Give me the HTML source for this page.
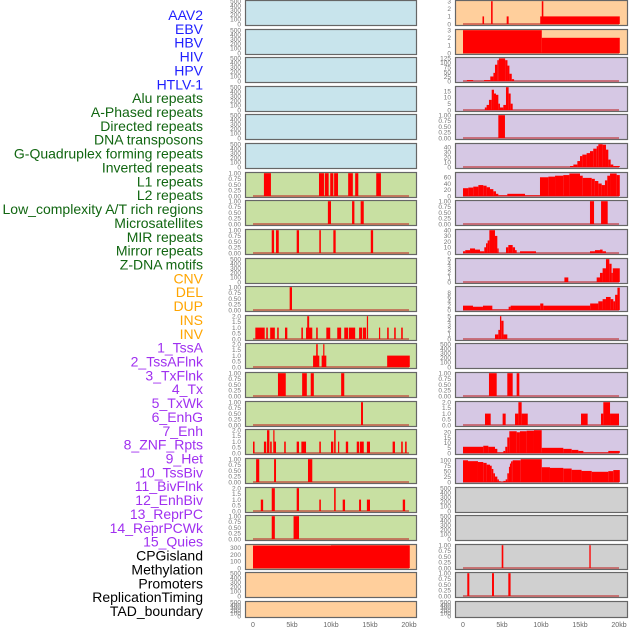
<!DOCTYPE html>
<html><head><meta charset="utf-8">
<style>
html,body{margin:0;padding:0;background:#fff;}
svg{display:block;font-family:"Liberation Sans",sans-serif;}
</style></head>
<body>
<svg id="chart" width="630" height="630" viewBox="0 0 630 630" xmlns="http://www.w3.org/2000/svg">
<g id="labels"></g>
<g id="panels"></g>
<g id="xaxes"></g>
</svg>
<script>
// ---- track names and colours ----
const trackNames = ["AAV2","EBV","HBV","HIV","HPV","HTLV-1","Alu repeats","A-Phased repeats","Directed repeats","DNA transposons","G-Quadruplex forming repeats","Inverted repeats","L1 repeats","L2 repeats","Low_complexity A/T rich regions","Microsatellites","MIR repeats","Mirror repeats","Z-DNA motifs","CNV","DEL","DUP","INS","INV","1_TssA","2_TssAFlnk","3_TxFlnk","4_Tx","5_TxWk","6_EnhG","7_Enh","8_ZNF_Rpts","9_Het","10_TssBiv","11_BivFlnk","12_EnhBiv","13_ReprPC","14_ReprPCWk","15_Quies","CPGisland","Methylation","Promoters","ReplicationTiming","TAD_boundary"];
const trackGroups = ["v","v","v","v","v","v","r","r","r","r","r","r","r","r","r","r","r","r","r","s","s","s","s","s","c","c","c","c","c","c","c","c","c","c","c","c","c","c","c","o","o","o","o","o"];

// ---- x axis ----
const xTickValues = [0,5000,10000,15000,20000];
const xTickLabels = ["0","5kb","10kb","15kb","20kb"];

// ---- series: [startKb, endKb, value] ----
const c1r6 = [[1.4,2.3,1],[8.46,9.1,1],[9.2,9.7,1],[9.9,10.3,1],[10.4,10.9,1],[12.2,12.8,1],[13.1,13.5,1],[15.8,16.4,1]];
const c1r7 = [[9.6,10.0,1],[12.7,13.0,1],[13.8,14.2,1]];
const c1r8 = [[2.4,2.7,1],[2.95,3.3,1],[5.6,5.9,1],[8.5,8.7,1],[10.3,10.6,1],[15.1,15.4,1]];
const c1r10 = [[4.7,5.0,1]];
const c1r11 = [[0.3,1.5,1],[1.7,1.9,1],[2.2,2.8,1],[3.1,3.3,1],[4.1,4.4,1],[6.2,6.4,1],[6.8,7.6,1],[6.95,7.2,2],[8.1,8.3,1],[9.4,9.9,1],[10.8,11.3,1],[11.7,12.2,1],[12.3,13.1,1],[13.6,14.0,1],[14.1,14.5,1],[14.6,14.75,2],[16.15,16.3,1],[17.2,17.4,1],[18.1,18.3,1],[19.0,19.2,1]];
const c1r12 = [[7.7,8.5,1],[8.1,8.3,2],[8.8,9.4,1],[9.0,9.1,2],[17.2,20.1,1]];
const c1r13 = [[3.2,4.2,1],[6.3,6.9,1],[7.4,7.8,1],[11.3,11.7,1]];
const c1r14 = [[13.85,14.1,1]];
const c1r15 = [[0,0.2,1],[1.4,1.7,1],[1.8,2.1,2],[2.2,2.4,1],[2.6,2.75,2],[2.75,2.95,1],[4.0,4.2,1],[5.6,5.9,1],[6.2,6.8,1],[8.5,8.7,1],[10.0,10.3,1],[10.4,10.6,2],[10.9,11.05,1],[11.9,12.2,1],[13.3,13.6,1],[13.7,14.2,1],[14.6,15.0,1],[17.9,18.2,1],[19.0,19.2,1],[19.5,19.7,1]];
const c1r16 = [[0.4,0.8,1],[2.7,2.95,1],[7.05,7.6,1]];
const c1r17 = [[1.0,1.3,1],[2.4,2.8,2],[5.6,5.9,2],[8.5,8.7,1],[10.4,10.6,2],[11.5,11.8,1],[13.6,13.85,1],[14.6,15.0,1],[19.2,19.5,1]];
const c1r18 = [[2.4,2.8,1],[5.2,5.9,1]];
const c1r19 = [[0,10,332],[10,20.1,336]];
const c2r0 = [[2.5,2.7,1],[3.6,3.8,3],[5.6,5.85,1],[9.9,20.1,1],[10.1,10.3,3]];
const c2r1 = [[0,10.1,3],[10.1,20.1,2]];
const c2r2 = [[0.5,1.3,5],[2.7,3.5,5],[3.5,3.9,25],[3.9,4.1,45],[4.1,4.4,90],[4.4,4.6,115],[4.6,5.4,125],[5.4,5.7,115],[5.7,5.95,85],[5.95,6.25,40],[6.25,6.55,10]];
const c2r3 = [[2.8,3.03,2],[3.03,3.33,4],[3.33,3.68,8],[3.68,3.97,16],[3.97,4.23,13],[4.23,4.53,12],[4.53,4.74,5],[4.74,5.17,2],[5.17,5.51,4],[5.51,5.85,18],[5.85,6.11,13],[6.11,6.37,5]];
const c2r4 = [[4.53,5.38,1]];
const c2r5 = [[13.72,14.15,2],[14.15,14.66,5],[14.66,15.0,12],[15.0,15.3,22],[15.3,15.85,25],[15.85,16.28,28],[16.28,16.7,32],[16.7,17.14,37],[17.14,17.35,42],[17.35,17.9,46],[17.9,18.33,45],[18.33,18.63,35],[18.63,18.93,15],[18.93,19.27,5],[19.27,20.1,2]];
const c2r6 = [[0,0.68,25],[0.68,1.32,27],[1.32,1.97,30],[1.97,2.6,35],[2.6,3.03,33],[3.03,3.46,28],[3.46,3.89,22],[3.89,4.23,15],[4.23,4.53,7],[4.53,5.68,2],[5.68,7.95,7],[7.95,9.87,2],[9.87,10.94,60],[10.94,11.8,62],[11.8,12.86,65],[12.86,13.64,67],[13.64,15.0,72],[15.0,15.35,65],[15.35,16.5,58],[16.5,16.9,55],[16.9,17.35,48],[17.35,17.78,40],[17.78,18.2,35],[18.2,18.5,50],[18.5,18.85,65],[18.85,19.7,72],[19.7,20.1,67]];
const c2r7 = [[16.28,16.8,1],[17.7,18.55,1]];
const c2r8 = [[0,0.29,3],[0.29,0.9,5],[0.9,1.54,8],[1.54,2.18,6],[2.18,2.73,3],[2.73,2.95,10],[2.95,3.16,17],[3.16,3.38,22],[3.38,4.1,40],[4.1,4.4,30],[4.4,4.57,8],[5.51,5.81,10],[5.81,6.37,14],[6.37,6.67,10],[6.67,6.88,5],[7.31,9.36,3],[16.28,16.92,3],[16.92,17.56,5],[17.56,17.9,6],[17.9,18.33,3]];
const c2r9 = [[13.0,13.5,1],[17.14,17.56,1],[17.56,17.9,2],[17.9,18.33,3],[18.33,18.76,5],[18.76,19.05,4],[19.05,19.2,2],[19.2,20.1,3]];
const c2r10 = [[0,1.28,2],[1.28,2.56,1.5],[2.56,3.76,2],[3.76,5.85,0.2],[5.85,6.11,1.5],[6.11,9.9,2],[9.9,10.3,3],[10.3,16.3,2],[16.3,17.35,3],[17.35,17.9,4],[17.9,18.33,5],[18.33,18.93,6],[18.93,19.27,5],[19.27,19.5,4],[19.5,19.8,7],[19.8,20.1,10.3]];
const c2r11 = [[4.1,4.53,1],[4.53,4.74,2],[4.74,4.91,5],[4.91,5.2,4],[5.2,5.68,1]];
const c2r13 = [[3.33,4.32,1],[5.68,6.37,1],[6.88,7.22,1]];
const c2r14 = [[2.82,3.55,1],[5.08,5.47,1],[6.67,7.1,1],[7.1,7.52,2],[7.52,8.3,1],[15.13,15.98,1],[17.69,17.99,1],[17.99,18.85,2],[18.85,20.0,1]];
const c2r15 = [[0,2.6,6],[2.6,3.25,7],[3.25,4.1,6],[4.1,4.4,4],[4.4,5.17,0.5],[5.17,5.42,2],[5.42,5.68,6],[5.68,5.94,15],[5.94,6.88,21],[6.88,7.3,20],[7.3,8.16,21],[8.16,9.1,21.5],[9.1,10.09,22],[10.09,12.86,5],[12.86,13.93,4],[13.93,14.79,3],[14.79,15.43,2],[15.43,18.63,0.5],[18.63,20.1,2]];
const c2r16 = [[0,0.64,100],[0.64,1.92,96],[1.92,2.6,92],[2.6,3.03,88],[3.03,3.46,80],[3.46,3.68,75],[3.68,3.89,60],[3.89,4.1,40],[4.1,4.4,25],[4.4,4.6,12],[4.6,4.83,3],[4.83,5.17,0.3],[5.17,5.47,5],[5.47,5.68,12],[5.68,5.89,40],[5.89,6.02,70],[6.02,6.16,85],[6.16,6.37,95],[6.37,7.4,100],[7.4,10.1,105],[10.1,11.15,68],[11.15,12.86,65],[12.86,13.93,62],[13.93,15.2,56],[15.2,16.5,51],[16.5,18.63,47],[18.63,19.27,50],[19.27,20.1,55]];
const c2r19 = [[4.96,5.17,1],[16.2,16.37,1]];
const c2r20 = [[0.55,0.81,1],[3.72,3.97,1],[5.81,6.1,1]];

// ---- tick label sets ----
const ticks500 = [0,100,200,300,400,500];
const ticks1 = [0,0.25,0.5,0.75,1];
const ticks2 = [0,0.5,1,1.5,2];

const BLUE="#c8e4ec", GREEN="#c8e0a2", ORANGE="#ffcf9c", PURPLE="#d6c8e4", GREY="#d0d0d0";
// panels: [col,row,bg,series,ymax,ticks,decimals]
const panels = [
 [0,0,BLUE,null,500,ticks500,0],[0,1,BLUE,null,500,ticks500,0],[0,2,BLUE,null,500,ticks500,0],
 [0,3,BLUE,null,500,ticks500,0],[0,4,BLUE,null,500,ticks500,0],[0,5,BLUE,null,500,ticks500,0],
 [0,6,GREEN,c1r6,1,ticks1,2],[0,7,GREEN,c1r7,1,ticks1,2],[0,8,GREEN,c1r8,1,ticks1,2],
 [0,9,GREEN,null,500,ticks500,0],[0,10,GREEN,c1r10,1,ticks1,2],[0,11,GREEN,c1r11,2,ticks2,1],
 [0,12,GREEN,c1r12,2,ticks2,1],[0,13,GREEN,c1r13,1,ticks1,2],[0,14,GREEN,c1r14,1,ticks1,2],
 [0,15,GREEN,c1r15,2,ticks2,1],[0,16,GREEN,c1r16,1,ticks1,2],[0,17,GREEN,c1r17,2,ticks2,1],
 [0,18,GREEN,c1r18,1,ticks1,2],[0,19,ORANGE,c1r19,338,[0,100,200,300],0],
 [0,20,ORANGE,null,500,ticks500,0],[0,21,ORANGE,null,500,ticks500,0],
 [1,0,ORANGE,c2r0,3,[0,1,2,3],0],[1,1,ORANGE,c2r1,3,[0,1,2,3],0],
 [1,2,PURPLE,c2r2,126,[0,25,50,75,100,125],0],[1,3,PURPLE,c2r3,18,[0,5,10,15],0],
 [1,4,PURPLE,c2r4,1,ticks1,2],[1,5,PURPLE,c2r5,46,[0,10,20,30,40],0],
 [1,6,PURPLE,c2r6,73,[0,20,40,60],0],[1,7,PURPLE,c2r7,1,ticks1,2],
 [1,8,PURPLE,c2r8,40,[0,10,20,30,40],0],[1,9,PURPLE,c2r9,5,[0,1,2,3,4,5],0],
 [1,10,PURPLE,c2r10,10.5,[0,2,4,6,8],0],[1,11,PURPLE,c2r11,5,[0,1,2,3,4,5],0],
 [1,12,PURPLE,null,500,ticks500,0],[1,13,PURPLE,c2r13,1,ticks1,2],
 [1,14,PURPLE,c2r14,2,ticks2,1],[1,15,PURPLE,c2r15,22,[0,5,10,15,20],0],
 [1,16,PURPLE,c2r16,105,[0,25,50,75,100],0],[1,17,GREY,null,500,ticks500,0],
 [1,18,GREY,null,500,ticks500,0],[1,19,GREY,c2r19,1,ticks1,2],
 [1,20,GREY,c2r20,1,ticks1,2],[1,21,GREY,null,500,ticks500,0]
];

const NS="http://www.w3.org/2000/svg";
function mk(tag,attrs,parent){const e=document.createElementNS(NS,tag);for(const k in attrs)e.setAttribute(k,attrs[k]);parent.appendChild(e);return e;}
const colLeft=[245,455], colW=[171,172], colZero=[253,463], colScale=[156/20,156/20];
function rowTop(r){return Math.round(r*28.62);}
function rowH(r){return r===21?16:25;}
function xScale(c,kb){return colZero[c]+kb*colScale[c];}

// labels
const lg=document.getElementById('labels');
const gc={v:"#1f1fff",r:"#116611",s:"#ffa500",c:"#a030f0",o:"#000"};
trackNames.forEach((n,i)=>{
  const t=mk('text',{x:203,y:15+i*13.86+5,'text-anchor':'end','font-size':'14',fill:gc[trackGroups[i]]},lg);
  t.textContent=n;
  
  
});

// panels
const pg=document.getElementById('panels');
panels.forEach(p=>{
  const [c,r,bg,series,ymax,ticks,dec]=p;
  const top=rowTop(r), h=rowH(r), L=colLeft[c], W=colW[c];
  const g=mk('g',{},pg);
  
  
  mk('rect',{x:L+0.5,y:top+0.5,width:W,height:h,fill:bg,stroke:'#666','stroke-width':1.2},g);
  const y0=top+h-1, yTop=top+1.2;
  const yS=v=>y0-v/ymax*(y0-yTop);
  ticks.forEach(tv=>{
    const t=mk('text',{x:L-4,y:yS(tv)+2.3,'text-anchor':'end','font-size':'6.5',fill:'#777'},g);
    t.textContent=tv.toFixed(dec);
    
    
  });
  if(series){
    mk('line',{x1:xScale(c,0),x2:xScale(c,20),y1:y0,y2:y0,stroke:'rgba(190,40,40,0.55)','stroke-width':2},g);
    series.forEach(s=>{
      const x1=xScale(c,s[0]), x2=xScale(c,s[1]);
      const b=mk('rect',{x:x1,y:yS(s[2]),width:Math.max(1.2,x2-x1),height:y0-yS(s[2]),fill:'#ff0000'},g);
      
      
    });
  }
});

// x axes
const xg=document.getElementById('xaxes');
[0,1].forEach(c=>{
  xTickValues.forEach((v,i)=>{
    const t=mk('text',{x:xScale(c,v/1000),y:627,'text-anchor':'middle','font-size':'7',fill:'#666'},xg);
    t.textContent=xTickLabels[i];
    
    
  });
});
</script>
</body></html>
